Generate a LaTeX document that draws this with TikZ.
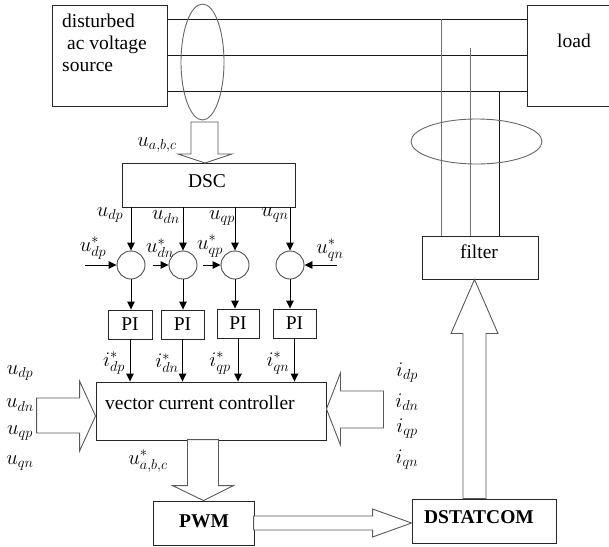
\documentclass[tikz,border=0pt]{standalone}
\usepackage{fontspec}
\setmainfont{Liberation Serif}
\usetikzlibrary{calc,arrows.meta,shapes.geometric}
\begin{document}
\begin{tikzpicture}[x=1pt,y=-1pt,
  every node/.style={font=\fontsize{19.5}{22}\selectfont},
  box/.style={draw=black!85,line width=0.9pt,rectangle,inner sep=0pt},
  sumc/.style={draw=black!70,line width=0.9pt,circle,minimum size=28pt,inner sep=0pt},
  wire/.style={line width=0.9pt,black!90},
  gwire/.style={line width=0.9pt,black!55},
  oval/.style={draw=black!60,line width=0.9pt},
  sig/.style={line width=0.9pt,-{Triangle[length=8pt,width=7.5pt]}},
  hollow/.style={draw=black!65,line width=0.9pt,fill=white,line join=miter},
  lbl/.style={inner sep=0pt}
]
\useasboundingbox (0,0) rectangle (609,546);
% power boxes
\node[box,minimum width=115pt,minimum height=101pt] (src) at (109.5,55.5) {};
\node[box,minimum width=90pt,minimum height=101pt] (load) at (572,55.5) {};
\node[lbl,anchor=base west] (srct1) at (62,27) {disturbed};
\node[lbl,anchor=base west] (srct2) at (67,49) {ac voltage};
\node[lbl,anchor=base west] (srct3) at (62,71) {source};
\node[lbl] (loadt) at (574,41) {load};
% three-phase lines
\coordinate (la) at (167,19);
\coordinate (lb) at (167,55);
\coordinate (lc) at (167,91);
\draw[wire] (la) -- (la -| load.west);
\draw[wire] (lb) -- (lb -| load.west);
\draw[wire] (lc) -- (lc -| load.west);
% filter and its lines
\node[box,minimum width=116pt,minimum height=43pt] (filt) at (480,257.5) {};
\node[lbl] (filtt) at (479,252) {filter};
\coordinate (f1) at (441,19);
\coordinate (f2) at (470,48);
\coordinate (f3) at (499,91);
\draw[gwire] (f1) -- (f1 |- filt.north);
\draw[gwire] (f2) -- (f2 |- filt.north);
\draw[wire] (f3) -- (f3 |- filt.north);
% ellipses
\node[oval,ellipse,minimum width=43pt,minimum height=116pt,inner sep=0pt] (ell1) at (202.5,62) {};
\node[oval,ellipse,minimum width=131pt,minimum height=45pt,inner sep=0pt] (ell2) at (476.5,141.5) {};
% DSC
\node[box,minimum width=173pt,minimum height=44pt] (dsc) at (208.5,185) {};
\node[lbl] (dsct) at (207,181) {DSC};
\draw[hollow] (205,163) -- ++(27,-9) -- ++(-14,0) -- ++(0,-32) -- ++(-27,0) -- ++(0,32) -- ++(-13,0) -- cycle;
\node[lbl] (uabc) at (157,145) {$u_{a,b,c}$};
% summing circles
\node[sumc] (c1) at (131,265) {};
\node[sumc] (c2) at (183,265) {};
\node[sumc] (c3) at (235,265) {};
\node[sumc] (c4) at (290,265) {};
\foreach \c in {c1,c2,c3,c4}{\draw[sig] (\c |- dsc.south) -- (\c.north);}
\node[lbl] (udp) at (110,215) {$u_{dp}$};
\node[lbl] (udn) at (166,217) {$u_{dn}$};
\node[lbl] (uqp) at (222,218) {$u_{qp}$};
\node[lbl] (uqn) at (275,215) {$u_{qn}$};
\coordinate (r1) at (85,265);
\coordinate (r2) at (153,265);
\coordinate (r3) at (203,265);
\coordinate (r4) at (337,265);
\draw[sig] (r1) -- (c1.west);
\draw[sig] (r2) -- (c2.west);
\draw[sig] (r3) -- (c3.west);
\draw[sig] (r4) -- (c4.east);
\node[lbl] (usdp) at (93,248) {$u^{*}_{dp}$};
\node[lbl] (usdn) at (160,248) {$u^{*}_{dn}$};
\node[lbl] (usqp) at (210,246) {$u^{*}_{qp}$};
\node[lbl] (usqn) at (330,250) {$u^{*}_{qn}$};
% PI boxes
\node[box,minimum width=44pt,minimum height=29pt] (pi1) at (130,324.5) {PI};
\node[box,minimum width=43pt,minimum height=29pt] (pi2) at (182.5,324.5) {PI};
\node[box,minimum width=42pt,minimum height=29pt] (pi3) at (238,323.5) {PI};
\node[box,minimum width=43pt,minimum height=29pt] (pi4) at (294.5,323.5) {PI};
\draw[sig] (c1.south) -- (c1.south |- pi1.north);
\draw[sig] (c2.south) -- (c2.south |- pi2.north);
\draw[sig] (c3.south) -- (c3.south |- pi3.north);
\draw[sig] (c4.south) -- (c4.south |- pi4.north);
% vector current controller
\node[box,minimum width=230pt,minimum height=58pt] (vcc) at (211,411) {};
\node[lbl,anchor=west] (vcct) at (105,403) {vector current controller};
\draw[sig] (pi1.south) -- (pi1.south |- vcc.north);
\draw[sig] (pi2.south) -- (pi2.south |- vcc.north);
\draw[sig] (pi3.south) -- (pi3.south |- vcc.north);
\draw[sig] (pi4.south) -- (pi4.south |- vcc.north);
\node[lbl] (isdp) at (114,363) {$i^{*}_{dp}$};
\node[lbl] (isdn) at (167,363) {$i^{*}_{dn}$};
\node[lbl] (isqp) at (220,363) {$i^{*}_{qp}$};
\node[lbl] (isqn) at (278,363) {$i^{*}_{qn}$};
% left and right inputs
\draw[hollow] ($(vcc.west)+(0,5)$) -- ++(-16,-35) -- ++(0,17) -- ++(-43,0) -- ++(0,35) -- ++(43,0) -- ++(0,18) -- cycle;
\draw[hollow] ($(vcc.east)+(0,-2)$) -- ++(14,-36) -- ++(0,18) -- ++(43,0) -- ++(0,37) -- ++(-43,0) -- ++(0,17) -- cycle;
\node[lbl] (ldp) at (20,373) {$u_{dp}$};
\node[lbl] (ldn) at (20,405) {$u_{dn}$};
\node[lbl] (lqp) at (20,433) {$u_{qp}$};
\node[lbl] (lqn) at (20,463) {$u_{qn}$};
\node[lbl] (rdp) at (407,373) {$i_{dp}$};
\node[lbl] (rdn) at (407,402) {$i_{dn}$};
\node[lbl] (rqp) at (407,429) {$i_{qp}$};
\node[lbl] (rqn) at (407,460) {$i_{qn}$};
% PWM and DSTATCOM
\node[box,minimum width=101pt,minimum height=44pt] (pwm) at (203.5,523) {};
\node[lbl] (pwmt) at (204,521) {\textbf{PWM}};
\node[box,minimum width=144pt,minimum height=44pt] (dst) at (484,521) {};
\node[lbl] (dstt) at (479,517) {\textbf{DSTATCOM}};
\draw[hollow] (pwm.north) -- ++(30,-15) -- ++(-15,0) -- ++(0,-46) -- ++(-31,0) -- ++(0,46) -- ++(-15,0) -- cycle;
\node[lbl] (usabc) at (148,461) {$u^{*}_{a,b,c}$};
\draw[hollow] ($(dst.west)+(0,2)$) -- ++(-39,-14) -- ++(0,7) -- ++(-119,0) -- ++(0,14) -- ++(119,0) -- ++(0,7) -- cycle;
\coordinate (up) at (474.5,0);
\draw[hollow] (up |- filt.south) -- ++(23.5,54) -- ++(-12,0) -- ++(0,165) -- ++(-23,0) -- ++(0,-165) -- ++(-12,0) -- cycle;
\end{tikzpicture}
\end{document}
